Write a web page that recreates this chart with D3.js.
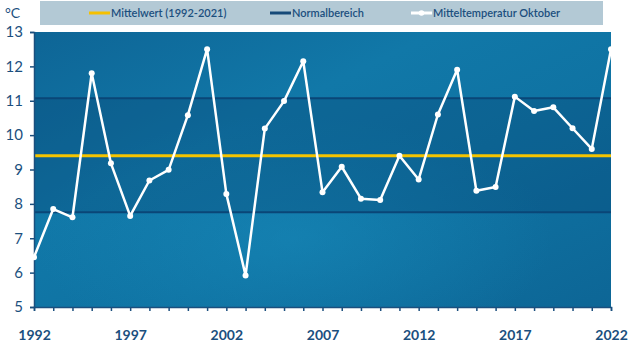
<!DOCTYPE html>
<html><head><meta charset="utf-8">
<script src="https://cdn.jsdelivr.net/npm/d3@7"></script>
<style>
html,body{margin:0;padding:0;background:#fff;}
svg{display:block;font-family:Lato,"Open Sans",sans-serif;}
</style></head>
<body><svg id="c" width="632" height="355"></svg>
<script>
const years = d3.range(1992, 2023);
const temps = [6.45,7.85,7.61,11.8,9.18,7.65,8.68,8.99,10.58,12.5,8.29,5.92,10.19,10.99,12.15,8.34,9.08,8.15,8.11,9.4,8.71,10.6,11.9,8.38,8.49,11.12,10.7,10.81,10.2,9.6,12.5];
const meanValue = 9.4;
const normalRange = [7.76, 11.07];
const yTicks = [5,6,7,8,9,10,11,12,13];
const xLabels = [1992,1997,2002,2007,2012,2017,2022];
const legendLabels = ["Mittelwert (1992-2021)","Normalbereich","Mitteltemperatur Oktober"];
const unitLabel = "°C";

const navy = "#1b4f7e";
const svg = d3.select("#c");
const L = 34, R = 611, T = 32, B = 307;
const x = d3.scaleLinear().domain([1992, 2022]).range([L, R]);
const y = d3.scaleLinear().domain([5, 13]).range([B, T]);

const defs = svg.append("defs");
const lg = defs.append("linearGradient").attr("id","bg").attr("x1",0).attr("y1",0).attr("x2",1).attr("y2",1);
lg.append("stop").attr("offset","0").attr("stop-color","#0e6596");
lg.append("stop").attr("offset","0.35").attr("stop-color","#1178a8");
lg.append("stop").attr("offset","0.6").attr("stop-color","#0f73a3");
lg.append("stop").attr("offset","1").attr("stop-color","#0d6696");
const rg = defs.append("radialGradient").attr("id","glow").attr("cx",0.45).attr("cy",0.75).attr("r",0.45);
rg.append("stop").attr("offset","0").attr("stop-color","#1a8fbf").attr("stop-opacity",0.45);
rg.append("stop").attr("offset","1").attr("stop-color","#1a8fbf").attr("stop-opacity",0);

// legend box
svg.append("rect").attr("x",40).attr("y",1).attr("width",563).attr("height",24).attr("fill","#b3c9d5");
const lgY = 13;
const items = [
  {x:89, color:"#f5c000", label:legendLabels[0], dot:false},
  {x:270, color:"#174a78", label:legendLabels[1], dot:false},
  {x:411, color:"#ffffff", label:legendLabels[2], dot:true}
];
items.forEach(it => {
  svg.append("line").attr("x1",it.x).attr("x2",it.x+21).attr("y1",lgY).attr("y2",lgY)
    .attr("stroke",it.color).attr("stroke-width",3);
  if (it.dot) svg.append("circle").attr("cx",it.x+10.5).attr("cy",lgY).attr("r",2.8).attr("fill","#fff");
  svg.append("text").attr("x",it.x+22).attr("y",lgY).attr("dy","0.35em")
    .attr("font-size",11).attr("font-weight",600).attr("fill","#1b4f7e").text(it.label);
});

// plot background
svg.append("rect").attr("x",L).attr("y",T).attr("width",R-L).attr("height",B-T).attr("fill","url(#bg)");
svg.append("rect").attr("x",L).attr("y",T).attr("width",R-L).attr("height",B-T).attr("fill","url(#glow)");
// normal band
svg.append("rect").attr("x",L).attr("y",y(normalRange[1])).attr("width",R-L)
  .attr("height",y(normalRange[0])-y(normalRange[1])).attr("fill","#083f6e").attr("opacity",0.3);
normalRange.forEach(v => {
  svg.append("line").attr("x1",L).attr("x2",R).attr("y1",y(v)).attr("y2",y(v))
    .attr("stroke","#0a4677").attr("stroke-width",2);
});
// mean line
svg.append("line").attr("x1",L).attr("x2",R).attr("y1",y(meanValue)).attr("y2",y(meanValue))
  .attr("stroke","#f5c400").attr("stroke-width",3);

// axes
const yAxis = svg.append("g").attr("transform",`translate(${L},0)`)
  .call(d3.axisLeft(y).tickValues(yTicks).tickSize(4).tickPadding(7).tickFormat(d3.format("d")));
const xAxis = svg.append("g").attr("transform",`translate(0,${B})`)
  .call(d3.axisBottom(x).tickValues(years).tickSize(4).tickPadding(19)
    .tickFormat(d => xLabels.includes(d) ? String(d) : ""));
[yAxis, xAxis].forEach(g => {
  g.select(".domain").attr("stroke",navy).attr("stroke-width",1.5);
  g.selectAll(".tick line").attr("stroke",navy).attr("stroke-width",1.5);
  g.selectAll("text").attr("fill",navy).attr("font-family","Lato,'Open Sans',sans-serif");
});
yAxis.selectAll("text").attr("font-size",15);
xAxis.selectAll("text").attr("font-size",14).attr("font-weight","bold");

svg.append("text").attr("x",5).attr("y",18).attr("font-size",14).attr("fill",navy).text(unitLabel);

// series
const line = d3.line().x((d,i) => x(years[i])).y(d => y(d));
svg.append("path").datum(temps).attr("d",line).attr("fill","none")
  .attr("stroke","#fff").attr("stroke-width",2.5).attr("stroke-linejoin","round");
svg.selectAll("circle.pt").data(temps).join("circle").attr("class","pt")
  .attr("cx",(d,i) => x(years[i])).attr("cy",d => y(d)).attr("r",3).attr("fill","#fff");
</script></body></html>
